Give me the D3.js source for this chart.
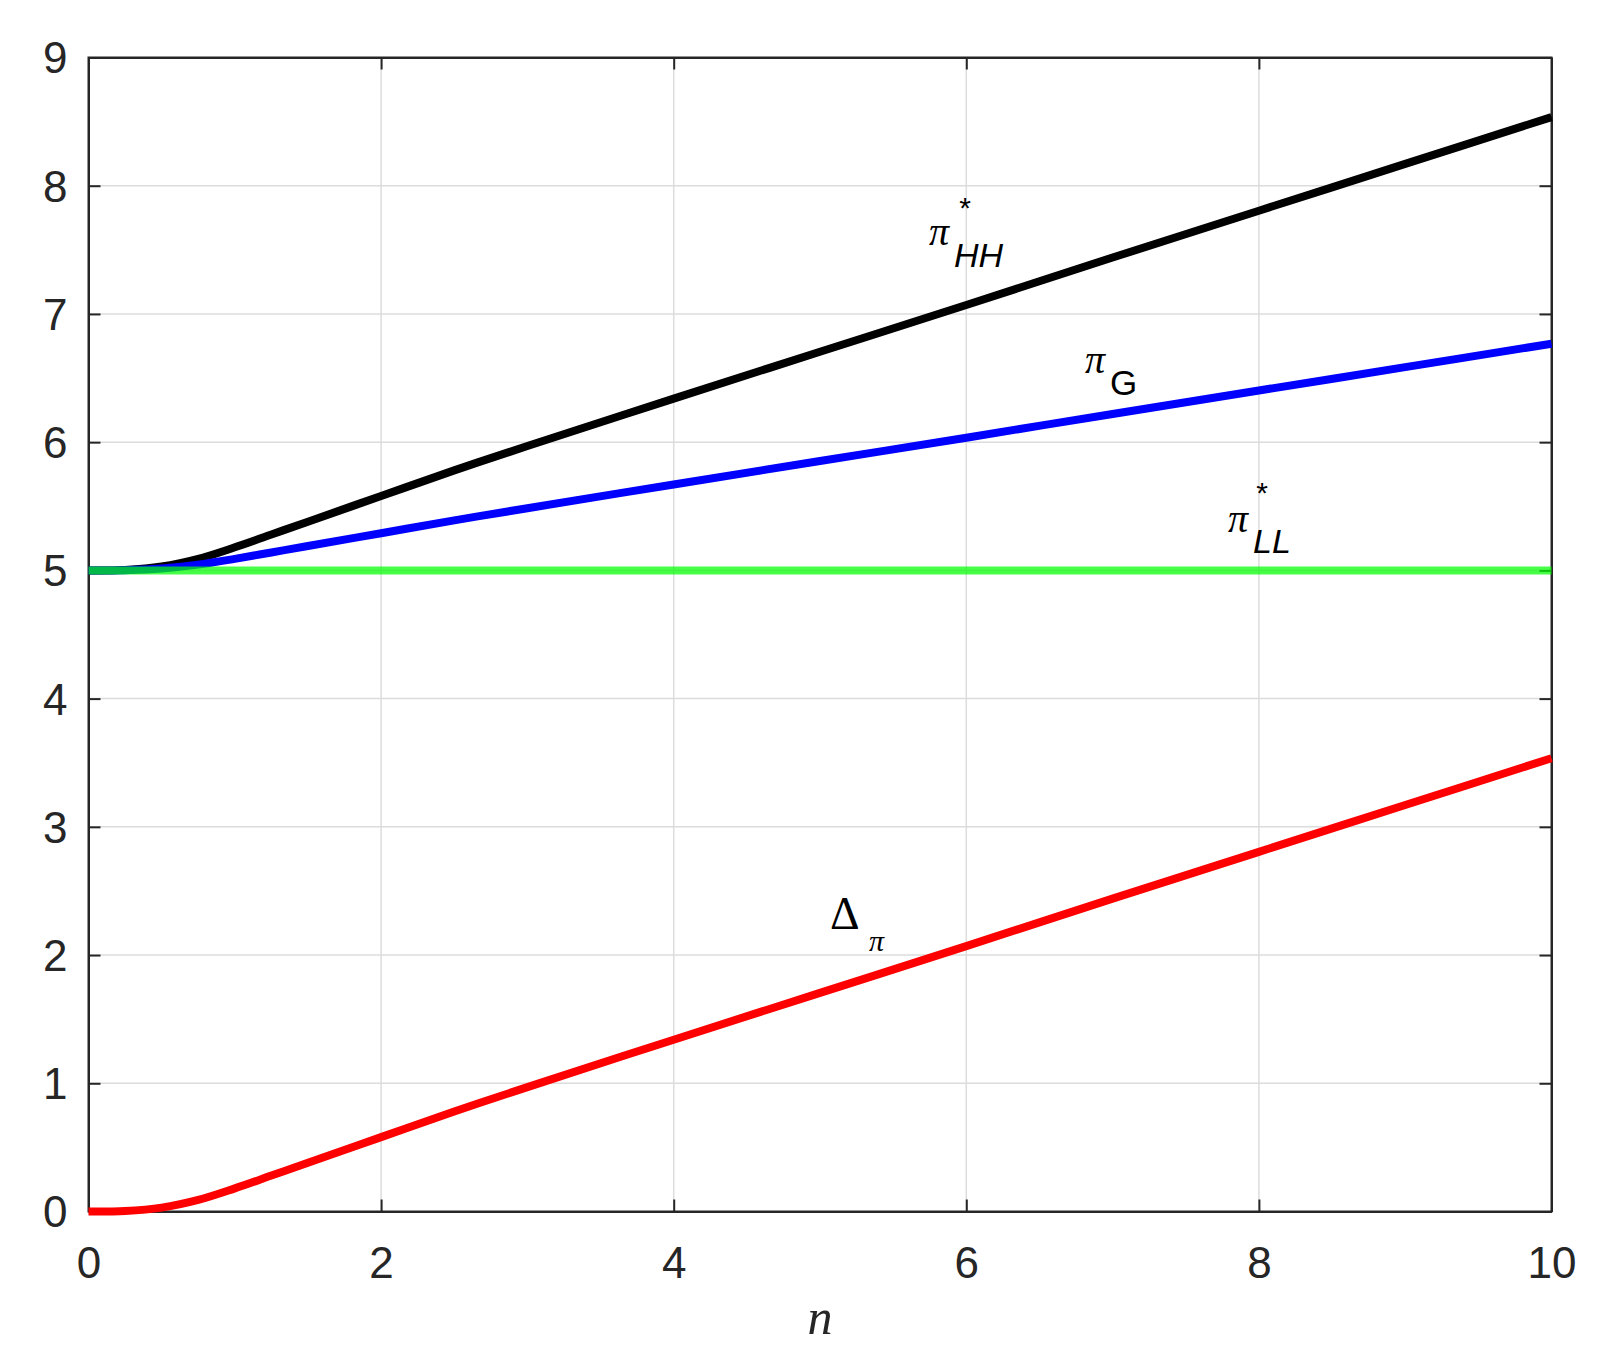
<!DOCTYPE html>
<html>
<head>
<meta charset="utf-8">
<script src="https://cdn.jsdelivr.net/npm/d3@7"></script>
<style>
  body { margin: 0; background: #fff; }
  svg text { font-family: "Liberation Sans", Arial, sans-serif; }
</style>
</head>
<body>
<div id="chart"></div>
<script>
// data
const nValues  = [0, 0.25, 0.5, 0.75, 1, 1.25, 1.5, 2, 2.5, 3, 4, 5, 6, 7, 8, 9, 10];
const piHH     = [5, 5.004, 5.03, 5.09, 5.18, 5.28, 5.38, 5.58, 5.78, 5.97, 6.34, 6.705, 7.07, 7.44, 7.805, 8.17, 8.535];
const piG      = [5, 5.002, 5.015, 5.045, 5.09, 5.14, 5.19, 5.29, 5.39, 5.485, 5.67, 5.853, 6.035, 6.22, 6.403, 6.585, 6.768];
const piLL     = [5, 5, 5, 5, 5, 5, 5, 5, 5, 5, 5, 5, 5, 5, 5, 5, 5];
const deltaPi  = [0, 0.004, 0.03, 0.09, 0.18, 0.28, 0.38, 0.58, 0.78, 0.97, 1.34, 1.705, 2.07, 2.44, 2.805, 3.17, 3.535];
const xTicks = [0, 2, 4, 6, 8, 10];
const yTicks = [0, 1, 2, 3, 4, 5, 6, 7, 8, 9];

const W = 1598, H = 1362;
const mLeft = 88.5, mRight = 1551.5, mTop = 57.5, mBottom = 1211.5;

const svg = d3.select("#chart").append("svg")
    .attr("width", W)
    .attr("height", H);

const x = d3.scaleLinear().domain([0, 10]).range([mLeft, mRight]);
const y = d3.scaleLinear().domain([0, 9]).range([mBottom, mTop]);

// grid
svg.append("g").selectAll("line").data(xTicks.slice(1, -1)).join("line")
    .attr("x1", d => x(d)).attr("x2", d => x(d))
    .attr("y1", mTop).attr("y2", mBottom)
    .attr("stroke", "#dcdcdc").attr("stroke-width", 1.5);
svg.append("g").selectAll("line").data(yTicks.slice(1, -1)).join("line")
    .attr("y1", d => y(d)).attr("y2", d => y(d))
    .attr("x1", mLeft).attr("x2", mRight)
    .attr("stroke", "#dcdcdc").attr("stroke-width", 1.5);

// axes (ticks pointing inwards, box on all sides)
const tickLen = 12;
svg.append("g").attr("transform", `translate(0,${mBottom})`)
    .call(d3.axisBottom(x).tickValues(xTicks).tickSize(-tickLen).tickPadding(35).tickSizeOuter(0))
    .call(g => g.selectAll("text").style("font-size", "44px").attr("fill", "#262626"));
svg.append("g").attr("transform", `translate(0,${mTop})`)
    .call(d3.axisTop(x).tickValues(xTicks).tickSize(-tickLen).tickFormat("").tickSizeOuter(0));
svg.append("g").attr("transform", `translate(${mLeft},0)`)
    .call(d3.axisLeft(y).tickValues(yTicks).tickSize(-tickLen).tickPadding(21).tickSizeOuter(0))
    .call(g => g.selectAll("text").style("font-size", "44px").attr("fill", "#262626").attr("dy", "0.35em"));
svg.append("g").attr("transform", `translate(${mRight},0)`)
    .call(d3.axisRight(y).tickValues(yTicks).tickSize(-tickLen).tickFormat("").tickSizeOuter(0));
svg.selectAll(".domain").attr("stroke", "#262626").attr("stroke-width", 2);
svg.selectAll(".tick line").attr("stroke", "#262626").attr("stroke-width", 2);

svg.append("rect")
    .attr("x", mLeft).attr("y", mTop)
    .attr("width", mRight - mLeft).attr("height", mBottom - mTop)
    .attr("fill", "none").attr("stroke", "#262626").attr("stroke-width", 2);

// lines
const line = d3.line().x(d => x(d[0])).y(d => y(d[1])).curve(d3.curveCatmullRom.alpha(0.5));
const series = [
  {vals: deltaPi, color: "#ff0000", op: 1},
  {vals: piHH, color: "#000000", op: 1},
  {vals: piG, color: "#0000ff", op: 1},
  {vals: piLL, color: "#00ff00", op: 0.72}
];
series.forEach(s => {
  svg.append("path")
    .datum(nValues.map((n, i) => [n, s.vals[i]]))
    .attr("d", line)
    .attr("fill", "none")
    .attr("stroke", s.color)
    .attr("stroke-opacity", s.op)
    .attr("stroke-width", 8);
});

// annotations
const serif = "'Liberation Serif', 'Times New Roman', serif";
function piGlyph(px, py, size) {
  svg.append("text").attr("x", px).attr("y", py).text("π")
    .style("font-family", serif).style("font-style", "italic").style("font-size", size + "px").attr("fill", "#000");
}
function star(px, py) {
  svg.append("text").attr("x", px).attr("y", py).attr("text-anchor", "middle").text("*")
    .style("font-size", "30px").attr("fill", "#000");
}
// π*HH
piGlyph(929, 245, 40); star(965, 218);
svg.append("text").attr("x", 954).attr("y", 267).text("HH")
  .style("font-style", "italic").style("font-size", "34px").attr("fill", "#000");
// πG
piGlyph(1085, 373, 40);
svg.append("text").attr("x", 1110).attr("y", 395).text("G")
  .style("font-size", "35px").attr("fill", "#000");
// π*LL
piGlyph(1228, 532, 40); star(1262, 503);
svg.append("text").attr("x", 1253).attr("y", 553).text("LL")
  .style("font-style", "italic").style("font-size", "34px").attr("fill", "#000");
// Δπ
svg.append("text").attr("x", 830).attr("y", 929).text("Δ")
  .style("font-family", serif).style("font-size", "46px").attr("fill", "#000");
svg.append("text").attr("x", 869).attr("y", 951).text("π")
  .style("font-family", serif).style("font-style", "italic").style("font-size", "30px").attr("fill", "#000");

// x axis title
svg.append("text").attr("x", 820).attr("y", 1334).attr("text-anchor", "middle").text("n")
  .style("font-family", serif).style("font-style", "italic").style("font-size", "50px").attr("fill", "#262626");
</script>
</body>
</html>
